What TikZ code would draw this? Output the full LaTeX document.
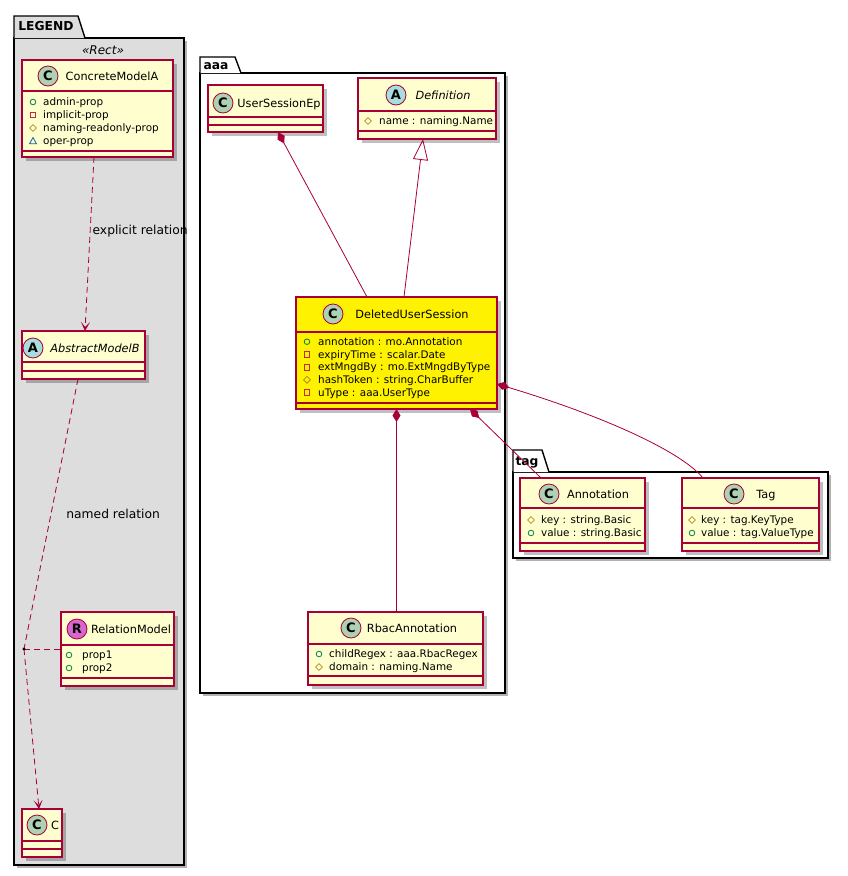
\documentclass[tikz,border=0pt]{standalone}
\usepackage{fontspec}
\setmainfont{DejaVu Sans}
\usetikzlibrary{arrows.meta,shadows}

\definecolor{umlred}{HTML}{A80036}
\definecolor{umlfill}{HTML}{FEFECE}
\definecolor{spotC}{HTML}{ADD1B2}
\definecolor{spotA}{HTML}{A9DCDF}
\definecolor{spotR}{HTML}{D966CF}
\definecolor{legendgray}{HTML}{DDDDDD}
\definecolor{pubgreen}{HTML}{038048}
\definecolor{privred}{HTML}{C82930}
\definecolor{protgold}{HTML}{B38D22}
\definecolor{pkgblue}{HTML}{1963A0}

\newcommand{\classsep}[2]{\draw[sepline] ([yshift=-#2]#1.north west) -- ([yshift=-#2]#1.north east);}

\tikzset{
  pkgbox/.style={draw=black, line width=1.4pt, anchor=north west, inner sep=0pt, outer sep=0pt,
    drop shadow={shadow xshift=3pt, shadow yshift=-3pt, opacity=0.3, fill=black}},
  pkgtab/.style={draw=black, line width=1.4pt},
  pkgname/.style={inner sep=0pt, font=\fontsize{12.3}{14}\selectfont\bfseries, text height=9pt, text depth=0pt},
  classbox/.style={draw=umlred, fill=umlfill, line width=1.2pt, anchor=north west, inner sep=0pt, outer sep=0pt,
    drop shadow={shadow xshift=4pt, shadow yshift=-4pt, opacity=0.25, fill=black}},
  spot/.style={circle, draw=umlred, line width=0.8pt, minimum size=20pt, inner sep=0pt,
    font=\fontsize{13}{13}\selectfont\bfseries},
  classname/.style={inner sep=0pt, font=\fontsize{11.3}{13}\selectfont, text height=8.2pt, text depth=0pt},
  attr/.style={anchor=west, inner sep=0pt, font=\fontsize{10.4}{12}\selectfont, text height=7.6pt, text depth=0pt},
  sepline/.style={draw=umlred, line width=1.2pt},
  conn/.style={draw=umlred, line width=0.8pt},
  comp/.style={conn, {Diamond[length=13pt,width=8pt]}-},
  inherit/.style={conn, {Triangle[open,length=21pt,width=15pt]}-},
  dep/.style={conn, dash pattern=on 6pt off 4pt},
  deparrow/.style={dep, -{Stealth[length=9pt,width=9pt,inset=5pt]}},
  rellabel/.style={inner sep=0pt, font=\fontsize{12.3}{14}\selectfont, text height=8.9pt, text depth=0pt},
  pics/pub/.style={code={\draw[pubgreen, line width=0.8pt] (0,0) circle[radius=2.8];}},
  pics/priv/.style={code={\draw[privred, line width=0.8pt] (-2.8,-2.8) rectangle (2.8,2.8);}},
  pics/prot/.style={code={\draw[protgold, line width=0.8pt] (0,-3.4) -- (3.4,0) -- (0,3.4) -- (-3.4,0) -- cycle;}},
  pics/pkg/.style={code={\draw[pkgblue, line width=0.8pt] (-3.5,2.8) -- (3.5,2.8) -- (0,-3.4) -- cycle;}}
}

\begin{document}
\begin{tikzpicture}[x=1pt, y=-1pt]
  \useasboundingbox (0,0) rectangle (848,876);

  % packages
  \node[pkgbox, fill=legendgray, minimum width=170, minimum height=827] (legend) at (14,38) {};
  \draw[pkgtab, fill=legendgray] (legend.north west) -- ++(0,-22) -- ++(64,0) -- ++(7,22);
  \node[pkgname] (legend-name) at (46,26) {LEGEND};
  \node[inner sep=0pt, font=\fontsize{12}{14}\selectfont\itshape] (legend-stereo) at (103,50) {«Rect»};

  \node[pkgbox, fill=white, minimum width=305, minimum height=620] (aaa) at (200,73) {};
  \draw[pkgtab, fill=white] (aaa.north west) -- ++(0,-16) -- ++(35,0) -- ++(6,16);
  \node[pkgname] (aaa-name) at (216,65) {aaa};

  \node[pkgbox, fill=white, minimum width=315, minimum height=86] (tag) at (513,472) {};
  \draw[pkgtab, fill=white] (tag.north west) -- ++(0,-22) -- ++(29,0) -- ++(7,22);
  \node[pkgname] (tag-name) at (527,461) {tag};

  % legend classes
  \node[classbox, minimum width=151, minimum height=97] (cma) at (22,60) {};
  \node[spot, fill=spotC] (cma-spot) at (48,76) {C};
  \node[classname] (cma-title) at (112,76) {ConcreteModelA};
  \classsep{cma}{31} \classsep{cma}{91}
  \foreach \vis/\txt [count=\i] in {pub/admin-prop, priv/implicit-prop, prot/naming-readonly-prop, pkg/oper-prop} {
    \pic at (33,{89+13*\i}) {\vis};
    \node[attr] (cma-\i) at (43,{89+13*\i}) {\txt};
  }

  \node[classbox, minimum width=123, minimum height=48] (amb) at (22,331) {};
  \node[spot, fill=spotA] (amb-spot) at (33,348) {A};
  \node[classname, font=\fontsize{11.3}{13}\selectfont\itshape] (amb-title) at (95,348) {AbstractModelB};
  \classsep{amb}{31} \classsep{amb}{40}

  \node[classbox, minimum width=113, minimum height=74] (relm) at (61,612) {};
  \node[spot, fill=spotR] (relm-spot) at (77,629) {R};
  \node[classname] (relm-title) at (131,629) {RelationModel};
  \classsep{relm}{33} \classsep{relm}{66}
  \foreach \vis/\txt [count=\i] in {pub/prop1, pub/prop2} {
    \pic at (69,{642+13*\i}) {\vis};
    \node[attr] (relm-\i) at (82,{642+13*\i}) {\txt};
  }

  \node[classbox, minimum width=40, minimum height=48] (cc) at (22,809) {};
  \node[spot, fill=spotC] (cc-spot) at (37,825) {C};
  \node[classname] (cc-title) at (55,825) {C};
  \classsep{cc}{32} \classsep{cc}{40}

  % aaa classes
  \node[classbox, minimum width=115, minimum height=47] (use) at (208,85) {};
  \node[spot, fill=spotC] (use-spot) at (223,103) {C};
  \node[classname] (use-title) at (279,103) {UserSessionEp};
  \classsep{use}{32} \classsep{use}{40}

  \node[classbox, minimum width=138, minimum height=61] (defn) at (358,78) {};
  \node[spot, fill=spotA] (defn-spot) at (396,95) {A};
  \node[classname, font=\fontsize{11.3}{13}\selectfont\itshape] (defn-title) at (443,95) {Definition};
  \classsep{defn}{33} \classsep{defn}{53}
  \pic at (368,121) {prot};
  \node[attr] (defn-1) at (379,121) {name : naming.Name};

  \node[classbox, fill=yellow, minimum width=201, minimum height=112] (dus) at (296,297) {};
  \node[spot, fill=spotC] (dus-spot) at (333,314) {C};
  \node[classname] (dus-title) at (412,314) {DeletedUserSession};
  \classsep{dus}{35} \classsep{dus}{106}
  \foreach \vis/\txt [count=\i] in {pub/annotation : mo.Annotation, priv/expiryTime : scalar.Date,
      priv/extMngdBy : mo.ExtMngdByType, prot/hashToken : string.CharBuffer, priv/uType : aaa.UserType} {
    \pic at (307,{329+12.7*\i}) {\vis};
    \node[attr] (dus-\i) at (318,{329+12.7*\i}) {\txt};
  }

  \node[classbox, minimum width=175, minimum height=73] (rbac) at (308,612) {};
  \node[spot, fill=spotC] (rbac-spot) at (351,628) {C};
  \node[classname] (rbac-title) at (412,628) {RbacAnnotation};
  \classsep{rbac}{32} \classsep{rbac}{64}
  \foreach \vis/\txt [count=\i] in {pub/childRegex : aaa.RbacRegex, prot/domain : naming.Name} {
    \pic at (319,{641+13*\i}) {\vis};
    \node[attr] (rbac-\i) at (329,{641+13*\i}) {\txt};
  }

  % tag classes
  \node[classbox, minimum width=125, minimum height=73] (ann) at (520,478) {};
  \node[spot, fill=spotC] (ann-spot) at (549,494) {C};
  \node[classname] (ann-title) at (598,494) {Annotation};
  \classsep{ann}{30} \classsep{ann}{65}
  \foreach \vis/\txt [count=\i] in {prot/key : string.Basic, pub/value : string.Basic} {
    \pic at (531,{507+13*\i}) {\vis};
    \node[attr] (ann-\i) at (541,{507+13*\i}) {\txt};
  }

  \node[classbox, minimum width=137, minimum height=73] (tagc) at (682,478) {};
  \node[spot, fill=spotC] (tagc-spot) at (734,494) {C};
  \node[classname] (tagc-title) at (766,494) {Tag};
  \classsep{tagc}{30} \classsep{tagc}{65}
  \foreach \vis/\txt [count=\i] in {prot/key : tag.KeyType, pub/value : tag.ValueType} {
    \pic at (692,{507+13*\i}) {\vis};
    \node[attr] (tagc-\i) at (701,{507+13*\i}) {\txt};
  }

  % relations
  \draw[deparrow] ([xshift=-3.5]cma.south) -- node[rellabel, pos=0.42, anchor=west, xshift=2] (explicit-label) {explicit relation} ([xshift=1.5]amb.north);
  \coordinate (reldot) at (24,649);
  \draw[dep] ([xshift=-5.5]amb.south) -- node[rellabel, pos=0.5, anchor=west, xshift=15] (named-label) {named relation} (reldot);
  \draw[deparrow] (reldot) -- ([xshift=-3]cc.north);
  \draw[dep] (reldot) -- (relm.west);
  \fill (reldot) circle[radius=1.7];

  \draw[comp] ([xshift=12.5]use.south) -- ([xshift=-29.5]dus.north);
  \draw[inherit] ([xshift=-4]defn.south) -- ([xshift=7.5]dus.north);
  \draw[comp] (dus.south) -- (dus.south |- rbac.north);
  \draw[comp] ([xshift=-27]dus.south east) -- ([xshift=21]ann.north west);
  \draw[comp] ([yshift=25]dus.south east) .. controls +(100,30) and +(-23,-28) .. ([xshift=21]tagc.north west);
\end{tikzpicture}
\end{document}
